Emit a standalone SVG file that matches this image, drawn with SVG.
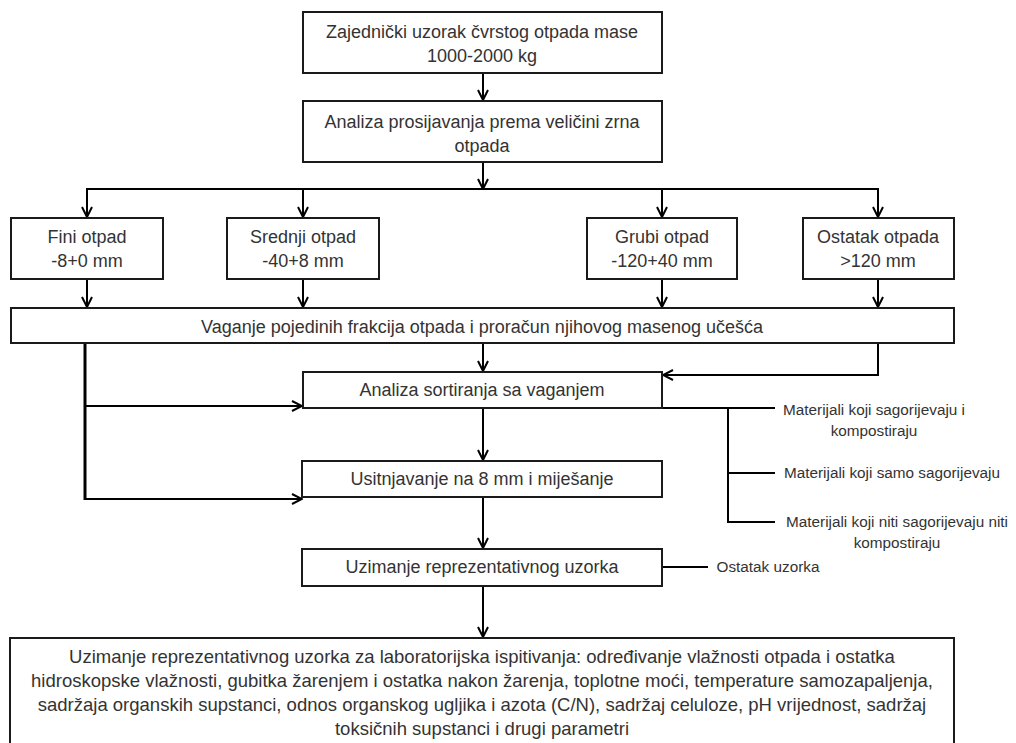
<svg xmlns="http://www.w3.org/2000/svg" width="1016" height="743" viewBox="0 0 1016 743">
<style>
.box{fill:#fff;stroke:#1a1a1a;stroke-width:2}
.t{font-family:"Liberation Sans",Arial,sans-serif;font-size:18px;fill:#333;text-anchor:middle}
.b{font-size:18.5px}
.s{font-family:"Liberation Sans",Arial,sans-serif;font-size:15.3px;fill:#333;text-anchor:middle}
.c{fill:none;stroke:#000;stroke-width:2}
.thick{stroke-width:3}
</style>
<defs>
<marker id="ah" viewBox="0 0 12 12" markerWidth="12" markerHeight="12" refX="11" refY="6" orient="auto" markerUnits="userSpaceOnUse">
<path d="M1,1 L11,6 L1,11" fill="none" stroke="#000" stroke-width="2"/>
</marker>
</defs>
<g id="connectors">
<line class="c" x1="483" y1="73" x2="483" y2="100" marker-end="url(#ah)"/>
<line class="c" x1="483" y1="162" x2="483" y2="189" marker-end="url(#ah)"/>
<line class="c" x1="86" y1="189" x2="879" y2="189"/>
<line class="c" x1="87" y1="189" x2="87" y2="217" marker-end="url(#ah)"/>
<line class="c" x1="303" y1="189" x2="303" y2="217" marker-end="url(#ah)"/>
<line class="c" x1="662" y1="189" x2="662" y2="217" marker-end="url(#ah)"/>
<line class="c" x1="878" y1="189" x2="878" y2="217" marker-end="url(#ah)"/>
<line class="c" x1="87" y1="279" x2="87" y2="307" marker-end="url(#ah)"/>
<line class="c" x1="303" y1="279" x2="303" y2="307" marker-end="url(#ah)"/>
<line class="c" x1="662" y1="279" x2="662" y2="307" marker-end="url(#ah)"/>
<line class="c" x1="878" y1="279" x2="878" y2="307" marker-end="url(#ah)"/>
<line class="c" x1="483" y1="343" x2="483" y2="371" marker-end="url(#ah)"/>
<polyline class="c" points="878,343 878,375 663,375" marker-end="url(#ah)"/>
<line class="c thick" x1="85" y1="343" x2="85" y2="500"/>
<line class="c" x1="85" y1="406" x2="302" y2="406" marker-end="url(#ah)"/>
<line class="c" x1="85" y1="499" x2="302" y2="499" marker-end="url(#ah)"/>
<line class="c" x1="483" y1="408" x2="483" y2="460" marker-end="url(#ah)"/>
<line class="c" x1="662" y1="408" x2="775" y2="408"/>
<line class="c" x1="728" y1="408" x2="728" y2="523"/>
<line class="c" x1="728" y1="473" x2="775" y2="473"/>
<line class="c" x1="727" y1="522" x2="775" y2="522"/>
<line class="c" x1="483" y1="497" x2="483" y2="548" marker-end="url(#ah)"/>
<line class="c" x1="662" y1="567" x2="708" y2="567"/>
<line class="c" x1="483" y1="586" x2="483" y2="637" marker-end="url(#ah)"/>
</g>
<g id="n1"><rect class="box" x="303" y="12" width="359" height="61"/>
<text class="t" x="482" y="38">Zajednički uzorak čvrstog otpada mase</text>
<text class="t" x="482" y="62">1000-2000 kg</text></g>
<g id="n2"><rect class="box" x="303" y="101" width="359" height="61"/>
<text class="t" x="482" y="128">Analiza prosijavanja prema veličini zrna</text>
<text class="t" x="482" y="152">otpada</text></g>
<g id="n3"><rect class="box" x="11" y="218" width="152" height="61"/>
<text class="t" x="87" y="243">Fini otpad</text>
<text class="t" x="87" y="267">-8+0 mm</text></g>
<g id="n4"><rect class="box" x="227" y="218" width="152" height="61"/>
<text class="t" x="303" y="243">Srednji otpad</text>
<text class="t" x="303" y="267">-40+8 mm</text></g>
<g id="n5"><rect class="box" x="587" y="218" width="150" height="61"/>
<text class="t" x="662" y="243">Grubi otpad</text>
<text class="t" x="662" y="267">-120+40 mm</text></g>
<g id="n6"><rect class="box" x="803" y="218" width="151" height="61"/>
<text class="t" x="878" y="243">Ostatak otpada</text>
<text class="t" x="878" y="267">&gt;120 mm</text></g>
<g id="n7"><rect class="box" x="11" y="308" width="943" height="35"/>
<text class="t" x="482" y="333">Vaganje pojedinih frakcija otpada i proračun njihovog masenog učešća</text></g>
<g id="n8"><rect class="box" x="303" y="372" width="359" height="36"/>
<text class="t" x="482" y="396">Analiza sortiranja sa vaganjem</text></g>
<g id="n9"><rect class="box" x="302" y="461" width="360" height="36"/>
<text class="t" x="482" y="485">Usitnjavanje na 8 mm i miješanje</text></g>
<g id="n10"><rect class="box" x="302" y="549" width="360" height="37"/>
<text class="t" x="482" y="573">Uzimanje reprezentativnog uzorka</text></g>
<g id="n11"><rect class="box" x="10" y="638" width="944" height="110"/>
<text class="t b" x="482" y="663">Uzimanje reprezentativnog uzorka za laboratorijska ispitivanja: određivanje vlažnosti otpada i ostatka</text>
<text class="t b" x="482" y="687">hidroskopske vlažnosti, gubitka žarenjem i ostatka nakon žarenja, toplotne moći, temperature samozapaljenja,</text>
<text class="t b" x="482" y="711">sadržaja organskih supstanci, odnos organskog ugljika i azota (C/N), sadržaj celuloze, pH vrijednost, sadržaj</text>
<text class="t b" x="482" y="735">toksičnih supstanci i drugi parametri</text></g>
<g id="l1"><text class="s" x="874" y="415">Materijali koji sagorijevaju i</text>
<text class="s" x="874" y="436">kompostiraju</text></g>
<g id="l2"><text class="s" x="892" y="478">Materijali koji samo sagorijevaju</text></g>
<g id="l3"><text class="s" x="897" y="527">Materijali koji niti sagorijevaju niti</text>
<text class="s" x="897" y="548">kompostiraju</text></g>
<g id="l4"><text class="s" x="768" y="572">Ostatak uzorka</text></g>
</svg>
